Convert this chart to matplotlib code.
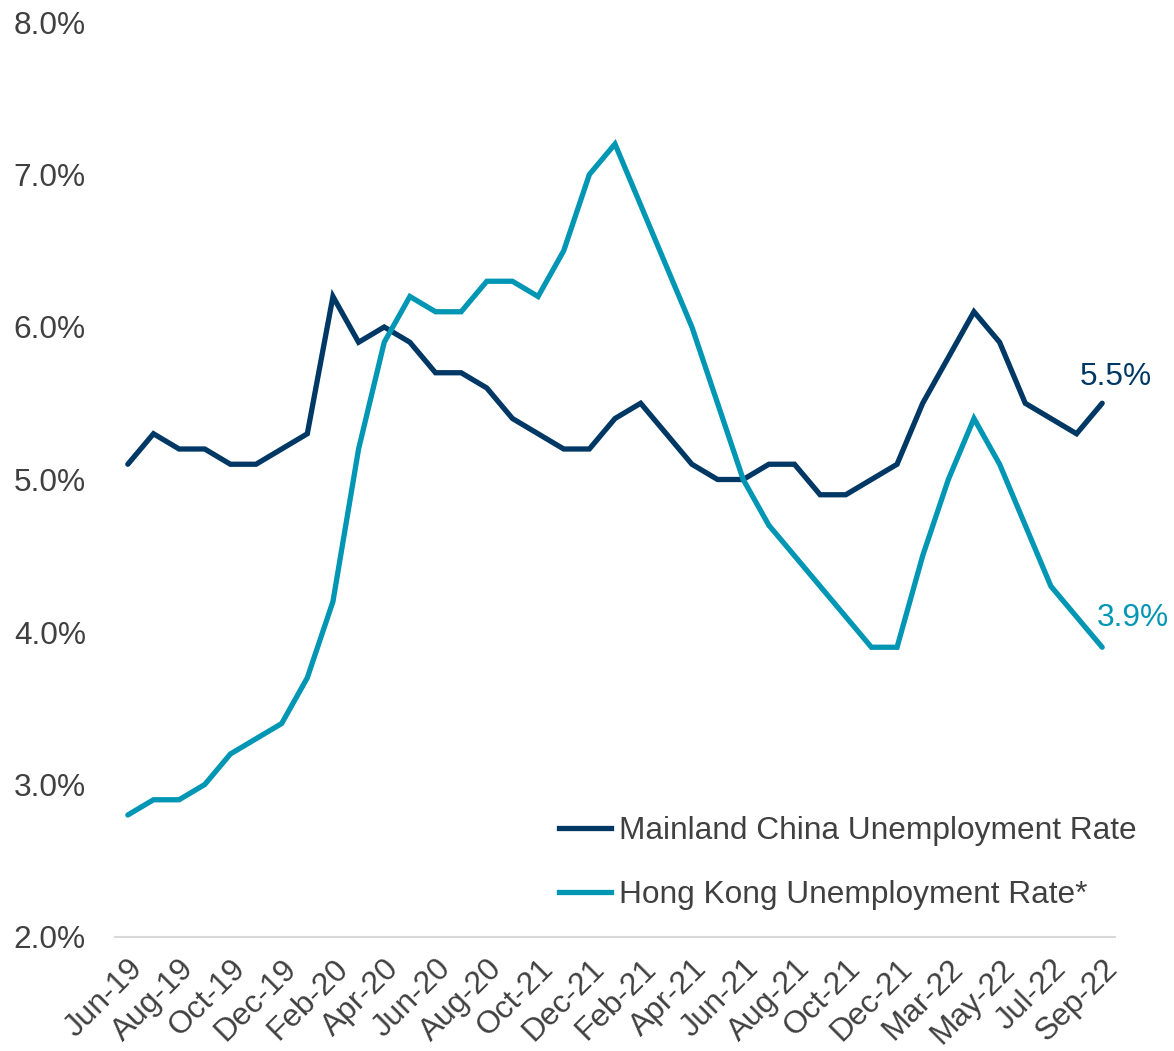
import matplotlib
matplotlib.use("Agg")
import matplotlib.pyplot as plt
from matplotlib.lines import Line2D

plt.rcParams['font.family'] = ['Liberation Sans', 'DejaVu Sans']

months = ["Jun-19", "Jul-19", "Aug-19", "Sep-19", "Oct-19", "Nov-19", "Dec-19", "Jan-20",
          "Feb-20", "Mar-20", "Apr-20", "May-20", "Jun-20", "Jul-20", "Aug-20", "Sep-20",
          "Oct-21", "Nov-20", "Dec-21", "Jan-21", "Feb-21", "Mar-21", "Apr-21", "May-21",
          "Jun-21", "Jul-21", "Aug-21", "Sep-21", "Oct-21", "Nov-21", "Dec-21", "Jan/Feb-22",
          "Mar-22", "Apr-22", "May-22", "Jun-22", "Jul-22", "Aug-22", "Sep-22"]

mainland = [5.1, 5.3, 5.2, 5.2, 5.1, 5.1, 5.2, 5.3, 6.2, 5.9, 6.0, 5.9, 5.7, 5.7, 5.6, 5.4,
            5.3, 5.2, 5.2, 5.4, 5.5, 5.3, 5.1, 5.0, 5.0, 5.1, 5.1, 4.9, 4.9, 5.0, 5.1, 5.5,
            5.8, 6.1, 5.9, 5.5, 5.4, 5.3, 5.5]

hongkong = [2.8, 2.9, 2.9, 3.0, 3.2, 3.3, 3.4, 3.7, 4.2, 5.2, 5.9, 6.2, 6.1, 6.1, 6.3, 6.3,
            6.2, 6.5, 7.0, 7.2, 6.8, 6.4, 6.0, 5.5, 5.0, 4.7, 4.5, 4.3, 4.1, 3.9, 3.9, 4.5,
            5.0, 5.4, 5.1, 4.7, 4.3, 4.1, 3.9]

series_names = ["Mainland China Unemployment Rate", "Hong Kong Unemployment Rate*"]
yticks = [2.0, 3.0, 4.0, 5.0, 6.0, 7.0, 8.0]

NAVY = "#003865"
TEAL = "#0096B4"
GRAY = "#404040"
FS = 22.8

fig = plt.figure(figsize=(11.74, 10.51), dpi=100)
ax = fig.add_axes([115/1174, 1 - 937/1051, 1000/1174, (937 - 22)/1051])

x = list(range(len(months)))
ax.plot(x, mainland, color=NAVY, lw=3.8, solid_joinstyle='miter', solid_capstyle='round')
ax.plot(x, hongkong, color=TEAL, lw=3.8, solid_joinstyle='miter', solid_capstyle='round')

ax.set_xlim(-0.5, len(months) - 0.5)
ax.set_ylim(2.0, 8.0)
ax.set_yticks(yticks)
ax.set_yticklabels([f"{v:.1f}%" for v in yticks])
ax.set_xticks(x[::2])
ax.set_xticklabels(months[::2], rotation=45, ha='right', rotation_mode='anchor')

for s in ['top', 'right', 'left']:
    ax.spines[s].set_visible(False)
ax.spines['bottom'].set_color('#D9D9D9')
ax.spines['bottom'].set_linewidth(1.5)
ax.tick_params(axis='both', length=0, labelsize=FS, colors=GRAY)
ax.tick_params(axis='y', pad=21)
ax.tick_params(axis='x', pad=12)

ax.annotate(f"{mainland[-1]:.1f}%", (x[-1], mainland[-1]), xytext=(10, 19),
            textcoords='offset points', ha='center', va='center', fontsize=FS, color=NAVY,
            annotation_clip=False)
ax.annotate(f"{hongkong[-1]:.1f}%", (x[-1], hongkong[-1]), xytext=(22, 21),
            textcoords='offset points', ha='center', va='center', fontsize=FS, color=TEAL,
            annotation_clip=False)

handles = [Line2D([], [], color=NAVY, lw=3.8), Line2D([], [], color=TEAL, lw=3.8)]
leg = fig.legend(handles, series_names, loc='upper left', bbox_to_anchor=(559/1174, 1 - 816/1051),
                 frameon=False, fontsize=FS, handlelength=1.65, handletextpad=0.25,
                 labelspacing=1.07, borderpad=0, borderaxespad=0)
for t in leg.get_texts():
    t.set_color(GRAY)

fig.savefig("out.png", dpi=100)
